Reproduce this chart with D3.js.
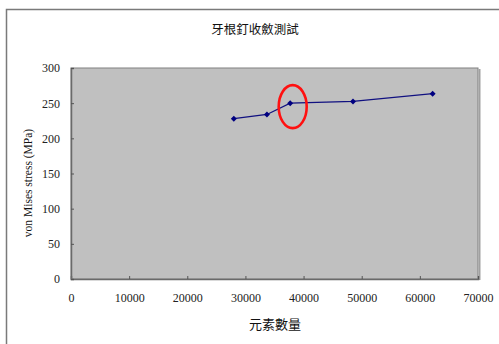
<!DOCTYPE html>
<html>
<head>
<meta charset="utf-8">
<script src="https://cdn.jsdelivr.net/npm/d3@7"></script>
<style>
  html, body { margin: 0; padding: 0; background: #fff; }
  svg { display: block; }
</style>
</head>
<body>
<svg id="chart" width="499" height="344"></svg>
<script>
// Convergence test data: element count vs. von Mises stress
const elementCounts = [28000, 33700, 37700, 48500, 62200];
const stressValues = [228, 234, 250, 252.5, 263.5];
const xTicks = [0, 10000, 20000, 30000, 40000, 50000, 60000, 70000];
const yTicks = [0, 50, 100, 150, 200, 250, 300];
const highlightIndex = 2;

const svg = d3.select("#chart");
const W = 499, H = 344;
const plot = { left: 71, top: 68, right: 478, bottom: 279 };

const x = d3.scaleLinear().domain([0, 70000]).range([plot.left, plot.right]);
const y = d3.scaleLinear().domain([0, 300]).range([plot.bottom, plot.top]);

// outer chart frame (extends off the right and bottom)
svg.append("path")
  .attr("d", `M6.5,${H + 2} V9.5 H${W + 2}`)
  .attr("fill", "none")
  .attr("stroke", "#7a7a7a")
  .attr("stroke-width", 1.5);

// plot area
svg.append("rect")
  .attr("x", plot.left).attr("y", plot.top)
  .attr("width", plot.right - plot.left).attr("height", plot.bottom - plot.top)
  .attr("fill", "#c0c0c0")
  .attr("stroke", "#808080").attr("stroke-width", 1);
// right-hand shadow of the plot area
svg.append("line")
  .attr("x1", plot.right + 1.5).attr("x2", plot.right + 1.5)
  .attr("y1", plot.top + 1).attr("y2", plot.bottom + 1)
  .attr("stroke", "#a0a0a0").attr("stroke-width", 2);

const tickFont = "'Liberation Serif', 'DejaVu Serif', serif";

// axes with inward ticks
const xAxis = d3.axisBottom(x).tickValues(xTicks).tickSize(-3).tickPadding(14).tickFormat(d3.format("d"));
const gx = svg.append("g").attr("transform", `translate(0,${plot.bottom})`).call(xAxis);
const yAxis = d3.axisLeft(y).tickValues(yTicks).tickSize(-3).tickPadding(11).tickFormat(d3.format("d"));
const gy = svg.append("g").attr("transform", `translate(${plot.left},0)`).call(yAxis);

[gx, gy].forEach(g => {
  g.select(".domain").attr("stroke", "#6a6a6a").attr("stroke-width", 1.5);
  g.selectAll(".tick line").attr("stroke", "#555");
  g.selectAll(".tick text")
    .attr("fill", "#222")
    .style("font-family", tickFont)
    .style("font-size", "12px");
});

// series line
const pts = elementCounts.map((c, i) => [c, stressValues[i]]);
svg.append("path")
  .datum(pts)
  .attr("fill", "none")
  .attr("stroke", "#101080")
  .attr("stroke-width", 1.2)
  .attr("d", d3.line().x(d => x(d[0])).y(d => y(d[1])));

// diamond markers
svg.selectAll(".marker")
  .data(pts)
  .join("path")
  .attr("class", "marker")
  .attr("transform", d => `translate(${x(d[0])},${y(d[1])})`)
  .attr("d", "M0,-3 L3,0 L0,3 L-3,0 Z")
  .attr("fill", "#000080");

// red ring around the converged point
const hp = pts[highlightIndex];
svg.append("ellipse")
  .attr("cx", x(hp[0]) + 2.5)
  .attr("cy", y(hp[1]) + 3.5)
  .attr("rx", 14)
  .attr("ry", 21.5)
  .attr("fill", "none")
  .attr("stroke", "#ff1010")
  .attr("stroke-width", 2.6);

const cjkFont = "'Noto Sans CJK TC', 'Noto Sans CJK SC', sans-serif";

// title
svg.append("text")
  .attr("x", 255).attr("y", 28)
  .attr("text-anchor", "middle").attr("dominant-baseline", "central")
  .style("font-family", cjkFont).style("font-size", "12.5px")
  .attr("fill", "#111")
  .text("牙根釘收斂測試");

// x axis title
svg.append("text")
  .attr("x", 275).attr("y", 323)
  .attr("text-anchor", "middle").attr("dominant-baseline", "central")
  .style("font-family", cjkFont).style("font-size", "13px")
  .attr("fill", "#111")
  .text("元素數量");

// y axis title
svg.append("text")
  .attr("transform", "translate(28,183) rotate(-90)")
  .attr("text-anchor", "middle").attr("dominant-baseline", "central")
  .style("font-family", tickFont).style("font-size", "11.5px")
  .attr("fill", "#111")
  .text("von Mises stress (MPa)");
</script>
</body>
</html>
